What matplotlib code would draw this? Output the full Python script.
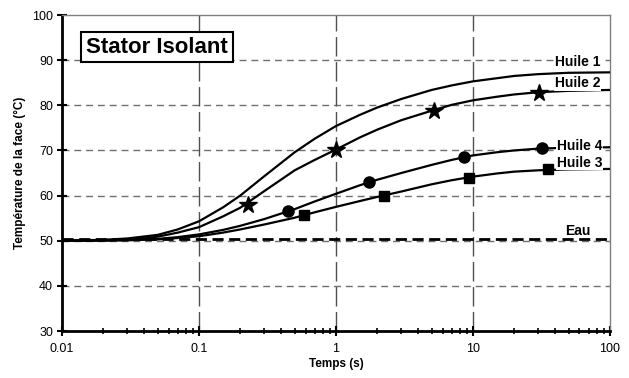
import matplotlib
matplotlib.use('Agg')
import matplotlib.pyplot as plt
from matplotlib.ticker import LogLocator, NullFormatter

plt.rcParams['font.family'] = ['Liberation Sans', 'DejaVu Sans']

# temps (s) and face temperature (degC) for each oil
temps = [0.01, 0.02, 0.03, 0.05, 0.07, 0.1, 0.15, 0.2, 0.3, 0.5, 0.7, 1,
         1.5, 2, 3, 5, 7, 10, 15, 20, 30, 50, 100]
huile1 = [50.0, 50.2, 50.5, 51.3, 52.5, 54.3, 57.4, 60.0, 64.3, 69.6, 72.6, 75.4,
          77.9, 79.5, 81.4, 83.4, 84.4, 85.3, 86.0, 86.5, 86.9, 87.2, 87.3]
huile2 = [50.0, 50.1, 50.3, 50.9, 51.8, 53.0, 55.4, 57.3, 61.0, 65.6, 67.9, 70.2,
          72.9, 74.6, 76.7, 78.8, 80.1, 81.1, 81.9, 82.4, 82.9, 83.2, 83.4]
huile4 = [50.0, 50.05, 50.15, 50.4, 50.8, 51.4, 52.4, 53.3, 54.8, 57.0, 58.7, 60.4,
          62.3, 63.5, 65.0, 66.8, 67.9, 68.9, 69.6, 70.0, 70.4, 70.6, 70.7]
huile3 = [50.0, 50.05, 50.1, 50.3, 50.6, 51.0, 51.8, 52.5, 53.6, 55.1, 56.3, 57.5,
          58.8, 59.7, 60.9, 62.5, 63.4, 64.2, 64.9, 65.3, 65.6, 65.8, 65.9]
eau_t = [0.01, 100]
eau = [50.3, 50.3]

# marker positions
t_star = [0.227, 1.0, 5.2, 30.5]
y_star = [58.0, 70.2, 78.8, 82.8]
t_circ = [0.446, 1.74, 8.63, 32.1]
y_circ = [56.6, 62.9, 68.6, 70.6]
t_sq = [0.58, 2.24, 9.4, 35.5]
y_sq = [55.6, 60.0, 64.0, 65.9]

fig = plt.figure(figsize=(6.29, 3.78), dpi=100)
ax = fig.add_axes([0.0986, 0.1243, 0.8710, 0.8360])
ax.set_xscale('log')
ax.set_xlim(0.01, 100)
ax.set_ylim(30, 100)

# grid
for yv in [40, 50, 60, 70, 80, 90]:
    ax.axhline(yv, color='#707070', lw=1.0, dashes=(5, 3.5), zorder=1)
for xv in [0.1, 1, 10]:
    ax.axvline(xv, color='#505050', lw=1.0, dashes=(14, 4), zorder=1)

ax.plot(eau_t, eau, color='black', lw=2.0, dashes=(4, 2), zorder=2)
for serie in [huile1, huile2, huile4, huile3]:
    ax.plot(temps, serie, color='black', lw=1.6, zorder=3)

ax.plot(t_star, y_star, ls='none', marker='*', ms=13, color='black', zorder=4)
ax.plot(t_circ, y_circ, ls='none', marker='o', ms=8, color='black', zorder=4)
ax.plot(t_sq, y_sq, ls='none', marker='s', ms=7.5, color='black', zorder=4)

lbl = dict(ha='right', va='center', fontsize=10, fontweight='bold', zorder=5)
box = dict(facecolor='white', edgecolor='none', pad=0.5)
ax.text(85, 89.6, 'Huile 1', bbox=box, **lbl)
ax.text(85, 84.9, 'Huile 2', bbox=box, **lbl)
ax.text(88, 70.9, 'Huile 4', bbox=box, **lbl)
ax.text(88, 67.3, 'Huile 3', bbox=box, **lbl)
ax.text(72, 52.2, 'Eau', **lbl)

ax.text(0.0495, 92.9, 'Stator Isolant', fontsize=16, fontweight='bold',
        ha='center', va='center', zorder=6,
        bbox=dict(facecolor='white', edgecolor='black', lw=1.5, pad=3.5))

# spines
for s in ['top', 'right']:
    ax.spines[s].set_color('#808080')
    ax.spines[s].set_linewidth(1.0)
for s in ['left', 'bottom']:
    ax.spines[s].set_color('black')
    ax.spines[s].set_linewidth(2.0)

ax.set_xticks([0.01, 0.1, 1, 10, 100])
ax.set_xticklabels(['0.01', '0.1', '1', '10', '100'])
ax.xaxis.set_minor_locator(LogLocator(base=10, subs=range(2, 10)))
ax.xaxis.set_minor_formatter(NullFormatter())
ax.set_yticks([30, 40, 50, 60, 70, 80, 90, 100])
ax.tick_params(axis='both', which='major', direction='inout', length=7,
               width=1.5, labelsize=9, pad=3)
ax.tick_params(axis='x', which='major', pad=5)
ax.tick_params(axis='x', which='minor', direction='inout', length=5, width=1.2)
ax.tick_params(axis='y', which='minor', left=False)

ax.set_xlabel('Temps (s)', fontsize=8.5, fontweight='bold', labelpad=2)
ax.set_ylabel('Température de la face (°C)', fontsize=8.5, fontweight='bold',
              labelpad=4)

fig.savefig('out.png', dpi=100)
